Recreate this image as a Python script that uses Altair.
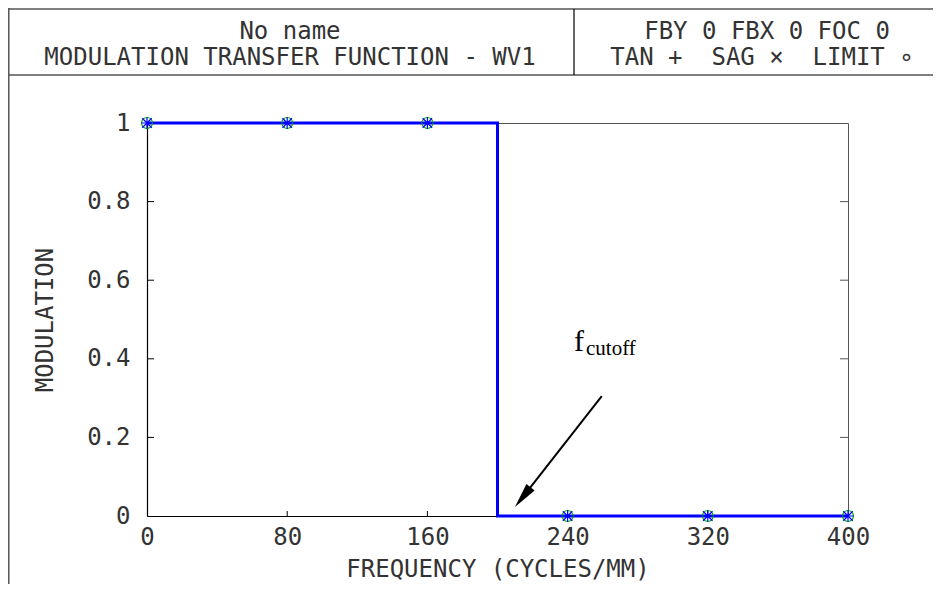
import altair as alt
import pandas as pd

# ---------------- data ----------------
freq_points = [0, 80, 160, 240, 320, 400]
tan_mtf = [1, 1, 1, 0, 0, 0]
sag_mtf = [1, 1, 1, 0, 0, 0]
limit_mtf = [1, 1, 1, 0, 0, 0]

step_freq = [0, 200, 200, 400]
step_mtf = [1, 1, 0, 0]

x_tick_values = [0, 80, 160, 240, 320, 400]
y_tick_values = [0, 0.2, 0.4, 0.6, 0.8, 1]
x_inner_ticks = [80, 160, 240, 320]
y_inner_ticks = [0.2, 0.4, 0.6, 0.8]

arrow_start = [259.5, 0.305]
arrow_head = [214.4, 0.048]

label_f = [243.6, 0.42]
label_sub = [250.5, 0.41]

NB = "\u00a0"
header_left = ["No name", "MODULATION TRANSFER FUNCTION - WV1"]
header_right = ["FBY 0 FBX 0 FOC 0", "TAN +" + NB + " SAG \u00d7" + NB + " LIMIT \u2218"]
x_title = "FREQUENCY (CYCLES/MM)"
y_title = "MODULATION"

MONO = "DejaVu Sans Mono"
TXT = "#333333"
BLUE = "#0000ff"
GREEN = "#00b000"
W, H = 701, 393

# ---------------- encodings ----------------
axis_style = dict(ticks=False, grid=False, domainColor="black", domainWidth=1.2,
                  labelFont=MONO, labelFontSize=24, labelColor=TXT, labelFlush=False,
                  titleFont=MONO, titleFontSize=24, titleColor=TXT, titleFontWeight="normal")
x_axis = alt.Axis(values=x_tick_values, title=x_title, labelPadding=9, titlePadding=8, **axis_style)
y_axis = alt.Axis(values=y_tick_values, title=y_title, format="~g", labelPadding=17,
                  titlePadding=29, **axis_style)
x_enc = alt.X("freq:Q", scale=alt.Scale(domain=[0, 400], nice=False), axis=x_axis)
y_enc = alt.Y("mtf:Q", scale=alt.Scale(domain=[0, 1], nice=False), axis=y_axis)

one = pd.DataFrame({"k": [0]})

# step line
step_df = pd.DataFrame({"freq": step_freq, "mtf": step_mtf, "idx": range(len(step_freq))})
step = alt.Chart(step_df).mark_line(color=BLUE, strokeWidth=3).encode(
    x=x_enc, y=y_enc, order="idx:O")

# markers
lim_df = pd.DataFrame({"freq": freq_points, "mtf": limit_mtf})
tan_df = pd.DataFrame({"freq": freq_points, "mtf": tan_mtf})
sag_df = pd.DataFrame({"freq": freq_points, "mtf": sag_mtf})
lim = alt.Chart(lim_df).mark_point(shape="circle", size=120, color=GREEN,
                                   strokeWidth=1.2, filled=False, opacity=1).encode(x=x_enc, y=y_enc)
tan = alt.Chart(tan_df).mark_point(shape="M-1,0L1,0M0,-1L0,1", size=130, color=BLUE,
                                   strokeWidth=1.2, filled=False, opacity=1).encode(x=x_enc, y=y_enc)
sag = alt.Chart(sag_df).mark_point(shape="M-1,-1L1,1M-1,1L1,-1", size=90, color=BLUE,
                                   strokeWidth=1.2, filled=False, opacity=1).encode(x=x_enc, y=y_enc)

# inward ticks
yt_df = pd.DataFrame({"mtf": y_inner_ticks})
xt_df = pd.DataFrame({"freq": x_inner_ticks})
left_ticks = alt.Chart(yt_df).mark_rule(color="black", strokeWidth=1).encode(
    y=y_enc, x=alt.value(0), x2=alt.value(7))
right_ticks = alt.Chart(yt_df).mark_rule(color="#555555", strokeWidth=1).encode(
    y=y_enc, x=alt.value(W - 8), x2=alt.value(W))
bottom_ticks = alt.Chart(xt_df).mark_rule(color="black", strokeWidth=1).encode(
    x=x_enc, y=alt.value(H), y2=alt.value(H - 5))

# arrow
arrow_df = pd.DataFrame({"freq": [arrow_start[0]], "mtf": [arrow_start[1]],
                         "freq2": [arrow_head[0]], "mtf2": [arrow_head[1]]})
arrow_line = alt.Chart(arrow_df).mark_rule(color="black", strokeWidth=2).encode(
    x=x_enc, y=y_enc, x2="freq2:Q", y2="mtf2:Q")
head_df = pd.DataFrame({"freq": [arrow_head[0]], "mtf": [arrow_head[1]]})
arrow_tip = alt.Chart(head_df).mark_point(shape="M0,-1L0.42,1L-0.42,1Z", size=625, angle=218.5,
                                          filled=True, color="black", opacity=1).encode(x=x_enc, y=y_enc)

# f_cutoff label
f_df = pd.DataFrame({"freq": [label_f[0]], "mtf": [label_f[1]]})
s_df = pd.DataFrame({"freq": [label_sub[0]], "mtf": [label_sub[1]]})
f_text = alt.Chart(f_df).mark_text(text="f", font="Liberation Serif", fontSize=30, align="left",
                                   baseline="alphabetic", color="black").encode(x=x_enc, y=y_enc)
s_text = alt.Chart(s_df).mark_text(text="cutoff", font="Liberation Serif", fontSize=21, align="left",
                                   baseline="alphabetic", color="black").encode(x=x_enc, y=y_enc)

# header frame
def hrule(x1, x2, y, color="#555555", sw=1.5):
    return alt.Chart(one).mark_rule(color=color, strokeWidth=sw).encode(
        x=alt.value(x1), x2=alt.value(x2), y=alt.value(y))

def vrule(x, y1, y2, color="#555555", sw=1.5):
    return alt.Chart(one).mark_rule(color=color, strokeWidth=sw).encode(
        x=alt.value(x), y=alt.value(y1), y2=alt.value(y2))

def htext(s, x, y):
    return alt.Chart(one).mark_text(font=MONO, fontSize=24, color=TXT, align="center",
                                    baseline="alphabetic").encode(
        x=alt.value(x), y=alt.value(y), text=alt.value(s))

frame = [
    hrule(-139, 800, -114),
    hrule(-139, 800, -48),
    vrule(-138.2, -115, 470),
    vrule(427, -114, -48, color="black", sw=1.2),
    htext(header_left[0], 143, -84),
    htext(header_left[1], 143, -58),
    htext(header_right[0], 620, -84),
    htext(header_right[1], 615, -58),
]

chart = alt.layer(
    *frame, left_ticks, right_ticks, bottom_ticks, step, lim, tan, sag,
    arrow_line, arrow_tip, f_text, s_text
).properties(
    width=W, height=H,
    autosize=alt.AutoSizeParams(type="none"),
    padding={"left": 139, "top": 115, "right": 85, "bottom": 68},
).configure_view(
    stroke="#555555", strokeWidth=1
)

chart.save("out.html", embed_options={"renderer": "svg", "actions": False})
